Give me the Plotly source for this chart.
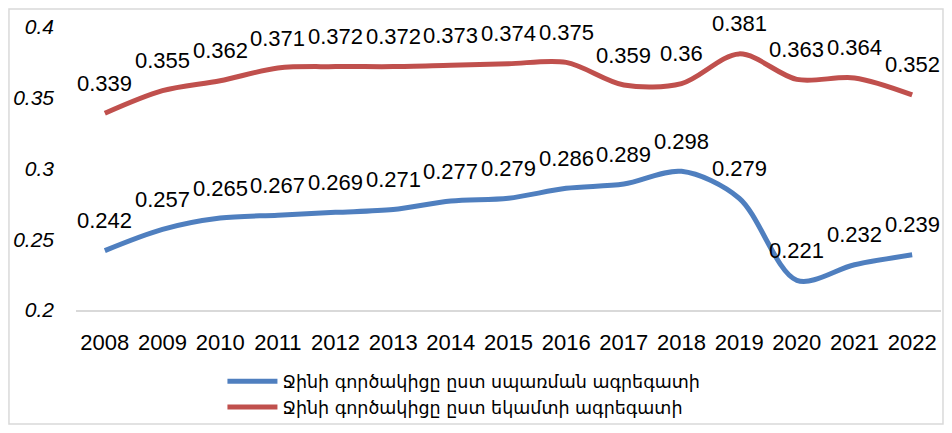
import plotly.graph_objects as go

years = [2008, 2009, 2010, 2011, 2012, 2013, 2014, 2015,
         2016, 2017, 2018, 2019, 2020, 2021, 2022]
gini_consumption = [0.242, 0.257, 0.265, 0.267, 0.269, 0.271, 0.277, 0.279,
                    0.286, 0.289, 0.298, 0.279, 0.221, 0.232, 0.239]
gini_income = [0.339, 0.355, 0.362, 0.371, 0.372, 0.372, 0.373, 0.374,
               0.375, 0.359, 0.36, 0.381, 0.363, 0.364, 0.352]
name_consumption = "Ջինի գործակիցը ըստ սպառման ագրեգատի"
name_income = "Ջինի գործակիցը ըստ եկամտի ագրեգատի"
y_ticks = [0.2, 0.25, 0.3, 0.35, 0.4]
y_tick_text = ["0.2", "0.25", "0.3", "0.35", "0.4"]

blue = "#4f7fbf"
red = "#c0504d"
num_font = "Liberation Sans, Arial, sans-serif"

fig = go.Figure()
fig.add_trace(go.Scatter(x=years, y=gini_consumption, mode="lines", name=name_consumption,
                         line=dict(color=blue, width=5, shape="spline", smoothing=0.9)))
fig.add_trace(go.Scatter(x=years, y=gini_income, mode="lines", name=name_income,
                         line=dict(color=red, width=5, shape="spline", smoothing=0.9)))

annotations = []
for series in (gini_consumption, gini_income):
    for x, y in zip(years, series):
        annotations.append(dict(x=x, y=y, xref="x", yref="y", text=str(y), showarrow=False,
                                yshift=30, font=dict(size=22, color="#000000", family=num_font)))

fig.update_layout(
    width=936, height=417,
    margin=dict(l=68, r=3, t=19, b=115, autoexpand=False),
    paper_bgcolor="white", plot_bgcolor="white",
    showlegend=True,
    legend=dict(orientation="v", x=0.1693, xanchor="left", y=-0.189, yanchor="top",
                font=dict(size=17.5, color="#000000", family="DejaVu Sans, Noto Sans, sans-serif"),
                tracegroupgap=0, itemwidth=50, bgcolor="rgba(0,0,0,0)"),
    annotations=annotations,
    shapes=[dict(type="rect", xref="paper", yref="paper", x0=-0.0775, x1=1.0023, y0=-0.4028, y1=1.0636,
                 line=dict(color="#d9d9d9", width=1.5), fillcolor="rgba(0,0,0,0)", layer="below")],
)
fig.update_xaxes(range=[2007.5, 2022.5], tickvals=years, ticktext=[str(y) for y in years],
                 showgrid=False, zeroline=False, showline=True, linecolor="#d9d9d9", linewidth=1.5,
                 ticks="", ticklabelstandoff=12, automargin=False,
                 tickfont=dict(size=22, color="#000000", family=num_font))
fig.update_yaxes(range=[0.2, 0.4], tickvals=y_ticks, ticktext=y_tick_text, showgrid=False,
                 zeroline=False, showline=False, ticks="", ticklabelstandoff=21, automargin=False,
                 tickfont=dict(size=21, color="#000000", family="Liberation Sans, Arial, sans-serif",
                               style="italic"))

fig.write_html("out.html")
